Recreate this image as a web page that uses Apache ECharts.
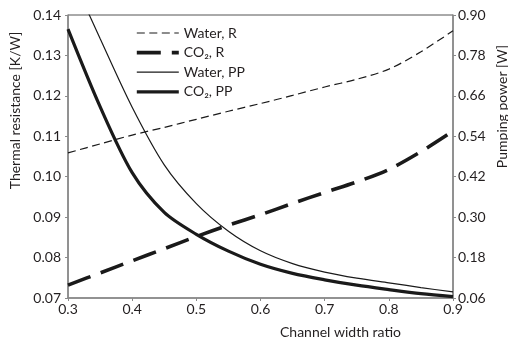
<!DOCTYPE html>
<html>
<head>
<meta charset="utf-8">
<script src="https://cdn.jsdelivr.net/npm/echarts@6/dist/echarts.min.js"></script>
<style>
html,body{margin:0;padding:0;background:#fff;}
#c{width:508px;height:344px;}
</style>
</head>
<body>
<div id="c"></div>
<script>
// Channel width ratio
var xs = [0.30, 0.35, 0.40, 0.45, 0.50, 0.55, 0.60, 0.65, 0.70, 0.75, 0.80, 0.85, 0.90];
// Thermal resistance [K/W] (left axis)
var waterR = [0.1059, 0.1081, 0.1103, 0.1122, 0.1142, 0.1162, 0.1181, 0.1201, 0.1222, 0.1241, 0.1266, 0.1309, 0.1361];
var co2R   = [0.0732, 0.0762, 0.0792, 0.0822, 0.0852, 0.0880, 0.0906, 0.0934, 0.0961, 0.0987, 0.1018, 0.1062, 0.1113];
// Pumping power [W] (right axis)
var waterPP = [1.04, 0.83, 0.626, 0.455, 0.340, 0.258, 0.200, 0.162, 0.137, 0.119, 0.105, 0.091, 0.078];
var co2PP   = [0.858, 0.628, 0.432, 0.314, 0.249, 0.199, 0.160, 0.133, 0.114, 0.098, 0.085, 0.073, 0.064];
// tick labels
var xTicks = [0.3, 0.4, 0.5, 0.6, 0.7, 0.8, 0.9];
var leftTicks = [0.07, 0.08, 0.09, 0.10, 0.11, 0.12, 0.13, 0.14];
var rightTicks = [0.06, 0.18, 0.30, 0.42, 0.54, 0.66, 0.78, 0.90];
var names = ['Water, R', 'CO\u2082, R', 'Water, PP', 'CO\u2082, PP'];

function zip(a, b) { return a.map(function (v, i) { return [v, b[i]]; }); }

var FONT = 'Lato';
var TXT = '#231f20';
var AX = '#8a8a8a';
var LC = '#1a1a1a';
var styles = [
  {color: LC, width: 1.2, type: [8, 4.5]},
  {color: LC, width: 3.6, type: [24, 11]},
  {color: LC, width: 1.2, type: 'solid'},
  {color: LC, width: 3.2, type: 'solid'}
];

var chart = echarts.init(document.getElementById('c'), null, {renderer: 'canvas'});
chart.setOption({
  animation: false,
  backgroundColor: '#fff',
  textStyle: {fontFamily: FONT, color: TXT},
  grid: {left: 68, right: 55, top: 15, bottom: 46, show: true, borderColor: '#555', borderWidth: 1,
    containLabel: false, outerBoundsMode: 'none'},
  legend: {
    orient: 'vertical', left: 135, top: 26, padding: 0,
    itemWidth: 42, itemHeight: 14, itemGap: 5.6,
    itemStyle: {opacity: 0, borderWidth: 0},
    textStyle: {fontFamily: FONT, fontSize: 14, color: TXT},
    data: names.map(function (n, i) { return {name: n, lineStyle: styles[i], itemStyle: {opacity: 0}}; })
  },
  xAxis: {
    type: 'value', min: 0.3, max: 0.9,
    name: 'Channel width ratio', nameLocation: 'middle', nameGap: 27,
    nameTextStyle: {fontFamily: FONT, fontSize: 14, color: TXT, padding: [0, 0, 0, 160]},
    axisLine: {lineStyle: {color: AX, width: 1.5}},
    axisTick: {show: true, length: 3, customValues: xTicks, lineStyle: {color: AX}},
    axisLabel: {customValues: xTicks, margin: 4, fontFamily: FONT, fontSize: 14, color: TXT,
      formatter: function (v) { return v.toFixed(1); }},
    splitLine: {show: false}
  },
  yAxis: [{
    type: 'value', min: 0.07, max: 0.14, position: 'left',
    name: 'Thermal resistance [K/W]', nameLocation: 'middle', nameGap: 44, nameRotate: 90,
    nameTextStyle: {fontFamily: FONT, fontSize: 14, color: TXT, padding: [0, 0, 0, 92]},
    axisLine: {show: true, lineStyle: {color: AX, width: 1.5}},
    axisTick: {show: true, length: 3, customValues: leftTicks, lineStyle: {color: AX}},
    axisLabel: {customValues: leftTicks, margin: 7, fontFamily: FONT, fontSize: 14, color: TXT,
      formatter: function (v) { return v.toFixed(2); }},
    splitLine: {show: false}
  }, {
    type: 'value', min: 0.06, max: 0.90, position: 'right',
    name: 'Pumping power [W]', nameLocation: 'middle', nameGap: 42, nameRotate: 90,
    nameMoveOverlap: false,
    nameTextStyle: {fontFamily: FONT, fontSize: 14, color: TXT, padding: [0, 0, 0, 100]},
    axisLine: {show: true, lineStyle: {color: AX, width: 1.5}},
    axisTick: {show: true, length: 3, customValues: rightTicks, lineStyle: {color: AX}},
    axisLabel: {customValues: rightTicks, margin: 5, fontFamily: FONT, fontSize: 14, color: TXT,
      formatter: function (v) { return v.toFixed(2); }},
    splitLine: {show: false}
  }],
  series: [{
    name: names[0], type: 'line', yAxisIndex: 0, smooth: 0.3, symbol: 'none',
    lineStyle: styles[0], itemStyle: {color: LC},
    data: zip(xs, waterR)
  }, {
    name: names[1], type: 'line', yAxisIndex: 0, smooth: 0.3, symbol: 'none',
    lineStyle: styles[1], itemStyle: {color: LC},
    data: zip(xs, co2R)
  }, {
    name: names[2], type: 'line', yAxisIndex: 1, smooth: 0.3, symbol: 'none',
    lineStyle: styles[2], itemStyle: {color: LC},
    data: zip(xs, waterPP)
  }, {
    name: names[3], type: 'line', yAxisIndex: 1, smooth: 0.3, symbol: 'none',
    lineStyle: styles[3], itemStyle: {color: LC},
    data: zip(xs, co2PP)
  }]
});
</script>
</body>
</html>
